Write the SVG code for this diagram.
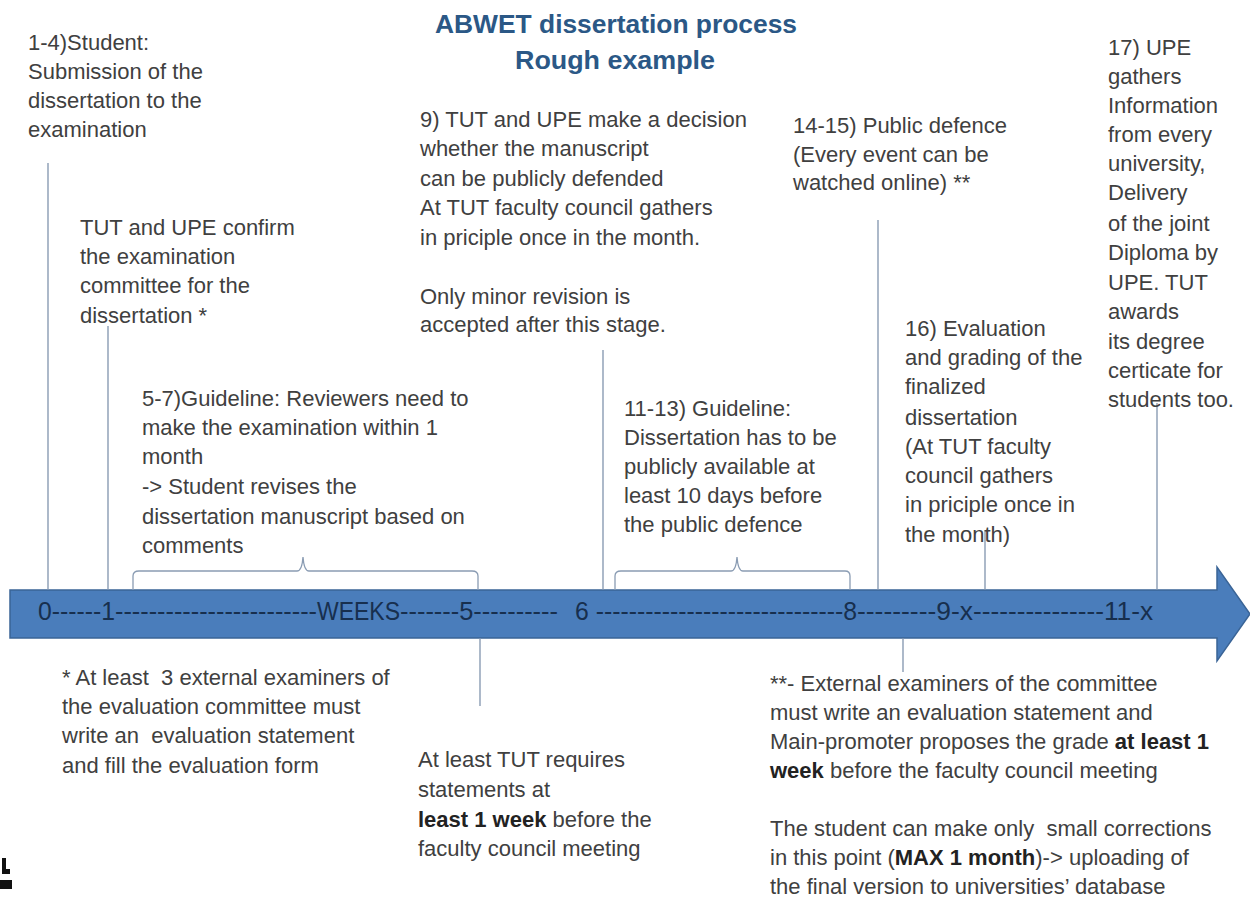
<svg xmlns="http://www.w3.org/2000/svg" width="1250" height="897" viewBox="0 0 1250 897">
<style>
.t{font-family:"Liberation Sans",Arial,sans-serif;font-size:22px;fill:#404040;white-space:pre}
.b{font-weight:bold;fill:#222}
.title{font-family:"Liberation Sans",Arial,sans-serif;font-size:26px;font-weight:bold;fill:#2b5886}
.ax{font-family:"Liberation Sans",Arial,sans-serif;font-size:25px;fill:#172f4e}
.ln{stroke:#8094ad;stroke-width:1.3;fill:none}
.br{stroke:#8a9cb3;stroke-width:1.3;fill:none}
</style>
<rect width="1250" height="897" fill="#ffffff"/>
<g id="timeline">
<path d="M10,590 H1217 V567 L1250,614 L1217,661 V638 H10 Z" fill="#4a7dbb" stroke="#3a6496" stroke-width="1.5"/>
<text class="ax" x="38" y="620" textLength="77" lengthAdjust="spacingAndGlyphs">0------1</text>
<text class="ax" x="115" y="620" textLength="202" lengthAdjust="spacingAndGlyphs">------------------------</text>
<text class="ax" x="317" y="620" textLength="83" lengthAdjust="spacingAndGlyphs">WEEKS</text>
<text class="ax" x="400" y="620" textLength="158" lengthAdjust="spacingAndGlyphs">-------5----------</text>
<text class="ax" x="575" y="620" textLength="282" lengthAdjust="spacingAndGlyphs">6 ------------------------------8</text>
<text class="ax" x="857" y="620" textLength="116" lengthAdjust="spacingAndGlyphs">---------9-x</text>
<text class="ax" x="973" y="620" textLength="180" lengthAdjust="spacingAndGlyphs">---------------11-x</text>
</g>
<g id="connectors">
<line class="ln" x1="48" y1="163" x2="48" y2="590"/>
<line class="ln" x1="108" y1="326" x2="108" y2="590"/>
<line class="ln" x1="603" y1="350" x2="603" y2="590"/>
<line class="ln" x1="878" y1="220" x2="878" y2="590"/>
<line class="ln" x1="985" y1="530" x2="985" y2="590"/>
<line class="ln" x1="1157" y1="403" x2="1157" y2="590"/>
<line class="ln" x1="480" y1="638" x2="480" y2="706"/>
<line class="ln" x1="903" y1="638" x2="903" y2="672"/>
<path class="br" d="M133,590 V576 Q133,571 139,571 H297 Q302,571 303,557 Q304,571 309,571 H472 Q478,571 478,576 V590"/>
<path class="br" d="M615,590 V576 Q615,571 621,571 H731 Q736,571 737,557 Q738,571 743,571 H845 Q850,571 850,576 V590"/>
</g>
<g id="title">
<text class="title" x="616" y="33" text-anchor="middle" textLength="362" lengthAdjust="spacingAndGlyphs">ABWET dissertation process</text>
<text class="title" x="615" y="69" text-anchor="middle" textLength="200" lengthAdjust="spacingAndGlyphs">Rough example</text>
</g>
<g id="n-submission">
<text class="t" x="28" y="50">1-4)Student:</text>
<text class="t" x="28" y="79">Submission of the</text>
<text class="t" x="28" y="108">dissertation to the</text>
<text class="t" x="28" y="137">examination</text>
</g>
<g id="n-confirm">
<text class="t" x="80" y="235">TUT and UPE confirm</text>
<text class="t" x="80" y="264">the examination</text>
<text class="t" x="80" y="293">committee for the</text>
<text class="t" x="80" y="323">dissertation *</text>
</g>
<g id="n-decision">
<text class="t" x="420" y="127">9) TUT and UPE make a decision</text>
<text class="t" x="420" y="156">whether the manuscript</text>
<text class="t" x="420" y="186">can be publicly defended</text>
<text class="t" x="420" y="215">At TUT faculty council gathers</text>
<text class="t" x="420" y="245">in priciple once in the month.</text>
<text class="t" x="420" y="304">Only minor revision is</text>
<text class="t" x="420" y="332">accepted after this stage.</text>
</g>
<g id="n-defence">
<text class="t" x="793" y="133">14-15) Public defence</text>
<text class="t" x="793" y="162">(Every event can be</text>
<text class="t" x="793" y="190">watched online) **</text>
</g>
<g id="n-diploma">
<text class="t" x="1108" y="55">17) UPE</text>
<text class="t" x="1108" y="84">gathers</text>
<text class="t" x="1108" y="113">Information</text>
<text class="t" x="1108" y="142">from every</text>
<text class="t" x="1108" y="171">university,</text>
<text class="t" x="1108" y="200">Delivery</text>
<text class="t" x="1108" y="231">of the joint</text>
<text class="t" x="1108" y="260">Diploma by</text>
<text class="t" x="1108" y="290">UPE. TUT</text>
<text class="t" x="1108" y="319">awards</text>
<text class="t" x="1108" y="349">its degree</text>
<text class="t" x="1108" y="378">certicate for</text>
<text class="t" x="1108" y="407">students too.</text>
</g>
<g id="n-evaluation">
<text class="t" x="905" y="336">16) Evaluation</text>
<text class="t" x="905" y="365">and grading of the</text>
<text class="t" x="905" y="394">finalized</text>
<text class="t" x="905" y="425">dissertation</text>
<text class="t" x="905" y="454">(At TUT faculty</text>
<text class="t" x="905" y="483">council gathers</text>
<text class="t" x="905" y="512">in priciple once in</text>
<text class="t" x="905" y="542">the month)</text>
</g>
<g id="n-review">
<text class="t" x="142" y="406">5-7)Guideline: Reviewers need to</text>
<text class="t" x="142" y="435">make the examination within 1</text>
<text class="t" x="142" y="464">month</text>
<text class="t" x="142" y="494">-&gt; Student revises the</text>
<text class="t" x="142" y="524">dissertation manuscript based on</text>
<text class="t" x="142" y="553">comments</text>
</g>
<g id="n-public">
<text class="t" x="624" y="416">11-13) Guideline:</text>
<text class="t" x="624" y="445">Dissertation has to be</text>
<text class="t" x="624" y="474">publicly available at</text>
<text class="t" x="624" y="503">least 10 days before</text>
<text class="t" x="624" y="532">the public defence</text>
</g>
<g id="n-examiners">
<text class="t" x="62" y="685">* At least  3 external examiners of</text>
<text class="t" x="62" y="714">the evaluation committee must</text>
<text class="t" x="62" y="743">write an  evaluation statement</text>
<text class="t" x="62" y="773">and fill the evaluation form</text>
</g>
<g id="n-statements">
<text class="t" x="418" y="767">At least TUT requires</text>
<text class="t" x="418" y="797">statements at</text>
<text class="t" x="418" y="827"><tspan class="b">least 1 week</tspan> before the</text>
<text class="t" x="418" y="856">faculty council meeting</text>
</g>
<g id="n-grade">
<text class="t" x="770" y="691">**- External examiners of the committee</text>
<text class="t" x="770" y="720">must write an evaluation statement and</text>
<text class="t" x="770" y="749">Main-promoter proposes the grade <tspan class="b">at least 1</tspan></text>
<text class="t" x="770" y="778"><tspan class="b">week</tspan> before the faculty council meeting</text>
<text class="t" x="770" y="836">The student can make only  small corrections</text>
<text class="t" x="770" y="865">in this point (<tspan class="b">MAX 1 month</tspan>)-&gt; uploading of</text>
<text class="t" x="770" y="894">the final version to universities’ database</text>
</g>
<g id="mark">
<path d="M2,858 H6 V869 H10 V874 H2 Z" fill="#111"/>
<rect x="0" y="880" width="12" height="9" fill="#111"/>
</g>
</svg>
